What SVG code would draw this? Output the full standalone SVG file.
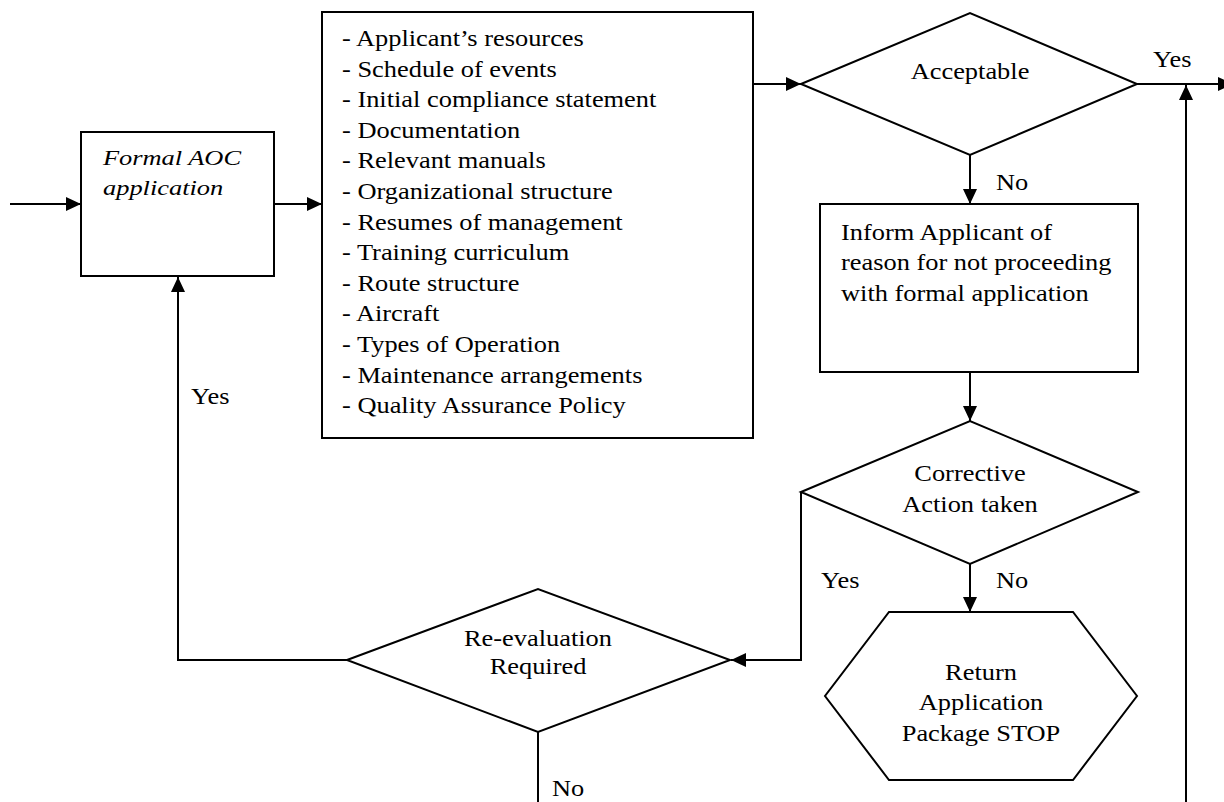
<svg xmlns="http://www.w3.org/2000/svg" width="1224" height="802" viewBox="0 0 1224 802">
<style>
.shape{fill:#fff;stroke:#000;stroke-width:2}
.conn{fill:none;stroke:#000;stroke-width:2}
.t{font-family:"Liberation Serif","Times New Roman",serif;font-size:24px;fill:#000}
.i{font-family:"Liberation Serif","Times New Roman",serif;font-size:22px;font-style:italic;fill:#000}
.c{text-anchor:middle}
</style>
<defs>
<marker id="arr" markerUnits="userSpaceOnUse" markerWidth="16" markerHeight="14" refX="15" refY="7" orient="auto">
<path d="M0,0 L15,7 L0,14 z" fill="#000"/>
</marker>
</defs>
<rect width="1224" height="802" fill="#fff"/>
<g id="connectors">
<path class="conn" d="M10,204 H81" marker-end="url(#arr)"/>
<path class="conn" d="M274,204 H322" marker-end="url(#arr)"/>
<path class="conn" d="M753,84 H801" marker-end="url(#arr)"/>
<path class="conn" d="M1137,84 H1233" marker-end="url(#arr)"/>
<path class="conn" d="M970,155 V204" marker-end="url(#arr)"/>
<path class="conn" d="M970,372 V421" marker-end="url(#arr)"/>
<path class="conn" d="M801,492 V660 H731" marker-end="url(#arr)"/>
<path class="conn" d="M970,564 V612" marker-end="url(#arr)"/>
<path class="conn" d="M347,660 H178 V277" marker-end="url(#arr)"/>
<path class="conn" d="M538,732 V802"/>
<path class="conn" d="M1186,802 V85" marker-end="url(#arr)"/>
<text class="t" transform="translate(1153,67) scale(1.1,1)">Yes</text>
<text class="t" transform="translate(996,190) scale(1.1,1)">No</text>
<text class="t" transform="translate(821,588) scale(1.1,1)">Yes</text>
<text class="t" transform="translate(996,588) scale(1.1,1)">No</text>
<text class="t" transform="translate(191,404) scale(1.1,1)">Yes</text>
<text class="t" transform="translate(552,796) scale(1.1,1)">No</text>
</g>
<g id="formal-aoc">
<rect class="shape" x="81" y="132" width="193" height="144"/>
<text class="i" transform="translate(103,165) scale(1.2,1)"><tspan x="0" y="0">Formal AOC</tspan><tspan x="0" y="30">application</tspan></text>
</g>
<g id="requirements">
<rect class="shape" x="322" y="12" width="431" height="426"/>
<text class="t" transform="translate(342,46) scale(1.1,1)">
<tspan x="0" y="0">- Applicant’s resources</tspan>
<tspan x="0" y="30.6">- Schedule of events</tspan>
<tspan x="0" y="61.2">- Initial compliance statement</tspan>
<tspan x="0" y="91.8">- Documentation</tspan>
<tspan x="0" y="122.4">- Relevant manuals</tspan>
<tspan x="0" y="153">- Organizational structure</tspan>
<tspan x="0" y="183.6">- Resumes of management</tspan>
<tspan x="0" y="214.2">- Training curriculum</tspan>
<tspan x="0" y="244.8">- Route structure</tspan>
<tspan x="0" y="275.4">- Aircraft</tspan>
<tspan x="0" y="306">- Types of Operation</tspan>
<tspan x="0" y="336.6">- Maintenance arrangements</tspan>
<tspan x="0" y="367.2">- Quality Assurance Policy</tspan>
</text>
</g>
<g id="acceptable">
<polygon class="shape" points="801,84 970,13 1137,84 970,155"/>
<text class="t c" transform="translate(970,79) scale(1.1,1)">Acceptable</text>
</g>
<g id="inform">
<rect class="shape" x="820" y="204" width="318" height="168"/>
<text class="t" transform="translate(841,240) scale(1.1,1)"><tspan x="0" y="0">Inform Applicant of</tspan><tspan x="0" y="30.5">reason for not proceeding</tspan><tspan x="0" y="61">with formal application</tspan></text>
</g>
<g id="corrective">
<polygon class="shape" points="801,492 970,421 1138,492 970,564"/>
<text class="t c" transform="translate(970,481) scale(1.1,1)"><tspan x="0" y="0">Corrective</tspan><tspan x="0" y="31.5">Action taken</tspan></text>
</g>
<g id="return">
<polygon class="shape" points="889,612 1073,612 1137,696 1073,780 889,780 825,696"/>
<text class="t c" transform="translate(981,680) scale(1.1,1)"><tspan x="0" y="0">Return</tspan><tspan x="0" y="30.5">Application</tspan><tspan x="0" y="61">Package STOP</tspan></text>
</g>
<g id="reevaluation">
<polygon class="shape" points="347,660 538,589 730,660 538,732"/>
<text class="t c" transform="translate(538,646) scale(1.1,1)"><tspan x="0" y="0">Re-evaluation</tspan><tspan x="0" y="28.5">Required</tspan></text>
</g>
</svg>
